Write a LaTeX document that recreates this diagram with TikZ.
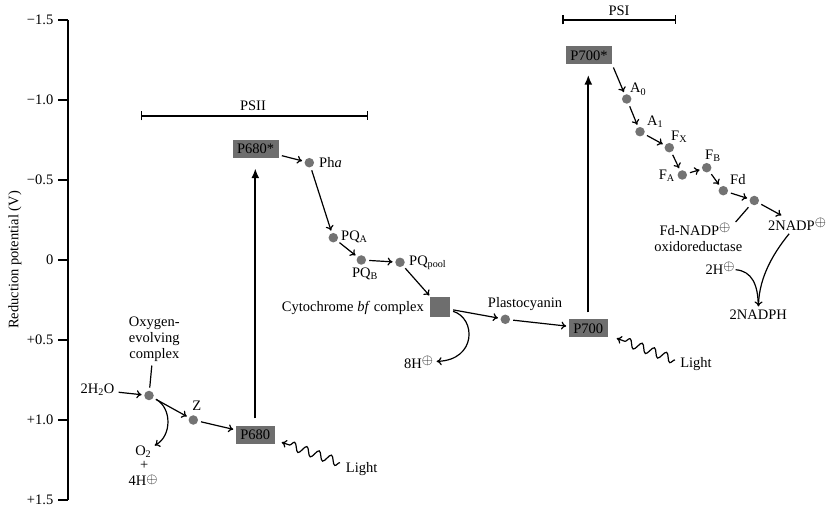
\documentclass[tikz,border=0pt]{standalone}
\usepackage{fontspec}
\setmainfont{Liberation Serif}
\usetikzlibrary{arrows.meta,decorations.pathmorphing}
\definecolor{dotgray}{HTML}{737373}
\definecolor{boxgray}{HTML}{6E6E6E}
\newcommand{\ciplus}{\raisebox{4pt}{\fontsize{15}{15}\selectfont$\oplus$}}
\newcommand{\ciplusb}{\raisebox{2.5pt}{\fontsize{15}{15}\selectfont$\oplus$}}
\begin{document}
\begin{tikzpicture}[x=1pt,y=-1pt,
 font=\fontsize{14.5}{16}\selectfont,
 dot/.style={circle,fill=dotgray,inner sep=0pt,minimum size=9.5pt},
 pbox/.style={fill=boxgray,inner xsep=4.5pt,inner ysep=0pt,minimum height=18pt},
 lab/.style={inner sep=1pt},
 arr/.style={line width=1.2pt,-{Computer Modern Rightarrow[length=5pt,width=8pt]},shorten <=3pt,shorten >=2.5pt},
 bigarr/.style={line width=2pt,-{Latex[length=10pt,width=8pt]},shorten <=7pt,shorten >=10pt},
 wave/.style={line width=1.2pt,-{Computer Modern Rightarrow[length=5pt,width=8pt]},decorate,decoration={snake,amplitude=4.3pt,segment length=13pt,post length=5pt}},
 thinln/.style={line width=1.2pt},
 span/.style={line width=1.2pt,{Bar[width=9pt]}-{Bar[width=9pt]}},
]
\useasboundingbox (0,0) rectangle (830,510);

% axis
\coordinate (ax0) at (68,20);
\coordinate (ax1) at (68,500);
\draw[line width=1.6pt] (ax0) -- (ax1);
\foreach \yy/\lbl in {20/−1.5,100/−1.0,180/−0.5,260/0,340/+0.5,420/+1.0,500/+1.5}{
  \coordinate (tk\yy) at (58,\yy);
  \draw[line width=1.3pt] (tk\yy) -- (68,\yy);
  \node[anchor=east,inner sep=0pt] (tl\yy) at (53.5,\yy) {\lbl};
}
\node[rotate=90] (ylab) at (15,260) {Reduction potential (V)};

% spans
\node[lab] (psii) at (253,105.5) {PSII};
\coordinate (b2a) at (140.7,116);
\coordinate (b2b) at (367.7,116);
\draw[span] (b2a) -- (b2b);
\node[lab] (psi) at (619,11) {PSI};
\coordinate (b1a) at (562.3,20);
\coordinate (b1b) at (676,20);
\draw[span] (b1a) -- (b1b);

% boxes
\node[pbox] (p680s) at (255.7,149) {P680*};
\node[pbox] (p680) at (255.3,434.5) {P680};
\node[pbox] (p700) at (588.3,328.5) {P700};
\node[pbox] (p700s) at (589,55.5) {P700*};
\node[fill=boxgray,minimum size=20pt,inner sep=0pt] (cyt) at (440,307.5) {};

% dots
\node[dot] (oec) at (149,395.5) {};
\node[dot] (z) at (193.3,420) {};
\node[dot] (pha) at (309.3,162.7) {};
\node[dot] (pqa) at (333.3,237.7) {};
\node[dot] (pqb) at (361.3,260) {};
\node[dot] (pqp) at (400,262.3) {};
\node[dot] (pc) at (505.3,319.3) {};
\node[dot] (a0) at (626.7,99) {};
\node[dot] (a1) at (640,131.7) {};
\node[dot] (fx) at (669.3,147.7) {};
\node[dot] (fa) at (682.3,175) {};
\node[dot] (fb) at (706.7,167.7) {};
\node[dot] (fd) at (723.3,190.7) {};
\node[dot] (fnr) at (754.3,200.5) {};

% labels
\node[lab,anchor=west] (phal) at (318,162.7) {Ph\textit{a}};
\node[lab,anchor=west] (pqal) at (340,237) {PQ\textsubscript{A}};
\node[lab] (pqbl) at (365,274) {PQ\textsubscript{B}};
\node[lab,anchor=west] (pqpl) at (408,263) {PQ\textsubscript{pool}};
\node[lab,anchor=east] (cytl) at (425,307.5) {Cytochrome \textit{bf} complex};
\node[lab] (h8) at (418.5,362) {8H\ciplus};
\node[lab] (pcl) at (525,304) {Plastocyanin};
\node[lab] (light2) at (696,364) {Light};
\node[lab] (light1) at (361.7,469.3) {Light};
\node[lab] (h2o) at (97.5,390) {2H\textsubscript{2}O};
\node[lab,align=center,inner sep=3pt] (oecl) at (154.3,339) {Oxygen-\\evolving\\complex};
\node[lab] (zl) at (196.7,405.7) {Z};
\node[lab] (o2) at (143.3,451.7) {O\textsubscript{2}};
\node[inner sep=0pt] (plus) at (144.3,465.5) {+};
\node[inner sep=0pt] (h4) at (143,480.5) {4H\ciplusb};
\node[lab,anchor=west] (a0l) at (629,89.3) {A\textsubscript{0}};
\node[lab,anchor=west] (a1l) at (646,121.7) {A\textsubscript{1}};
\node[lab,anchor=west] (fxl) at (670,136.5) {F\textsubscript{X}};
\node[lab,anchor=east] (fal) at (676,176) {F\textsubscript{A}};
\node[lab,anchor=west] (fbl) at (704,156) {F\textsubscript{B}};
\node[lab,anchor=west] (fdl) at (729,179.5) {Fd};
\node[lab] (fnrl1) at (695,229.5) {Fd-NADP\ciplus};
\node[lab] (fnrl2) at (698.3,246.5) {oxidoreductase};
\node[lab] (nadp) at (797,224) {2NADP\ciplus};
\node[lab] (h2) at (720,268.5) {2H\ciplus};
\node[lab] (nadph) at (758.3,315) {2NADPH};

% PSII chain
\draw[bigarr] (p680.north) -- (p680.north |- p680s.south);
\draw[arr] (p680s) -- (pha);
\draw[arr] (pha) -- (pqa);
\draw[arr] (pqa) -- (pqb);
\draw[arr] (pqb) -- (pqp);
\draw[arr] (pqp) -- (cyt);
\draw[arr] (cyt) -- (pc);
\draw[arr] (cyt) .. controls (476,318) and (477,360) .. (h8);
\draw[arr] (pc) -- (p700);
\draw[arr] (h2o) -- (oec);
\draw[arr] (oec) -- (z);
\draw[arr] (z) -- (p680);
\draw[arr] (oec) .. controls (172,408) and (172,436) .. (o2);
\draw[thinln,shorten <=1pt,shorten >=3pt] (oecl) -- (oec);

% PSI chain
\draw[bigarr] (p700.north) -- (p700.north |- p700s.south);
\draw[arr] (p700s.south east) -- (a0);
\draw[arr] (a0) -- (a1);
\draw[arr] (a1) -- (fx);
\draw[arr] (fx) -- (fa);
\draw[arr] (fa) -- (fb);
\draw[arr] (fb) -- (fd);
\draw[arr] (fd) -- (fnr);
\draw[arr] (fnr) -- (nadp);
\draw[thinln,shorten <=4pt] (fnr) -- ([xshift=4pt]fnrl1.north east);
\draw[arr] (nadp) .. controls (776,250) and (759,275) .. (nadph);
\draw[thinln,shorten >=4pt] (h2) .. controls (752,271) and (758,285) .. (nadph);

% light
\coordinate (w1s) at (340,462.7);
\coordinate (w1e) at (281.7,442.3);
\draw[wave] (w1s) -- (w1e);
\coordinate (w2s) at (675,360);
\coordinate (w2e) at (616.7,338.3);
\draw[wave] (w2s) -- (w2e);
\end{tikzpicture}
\end{document}
